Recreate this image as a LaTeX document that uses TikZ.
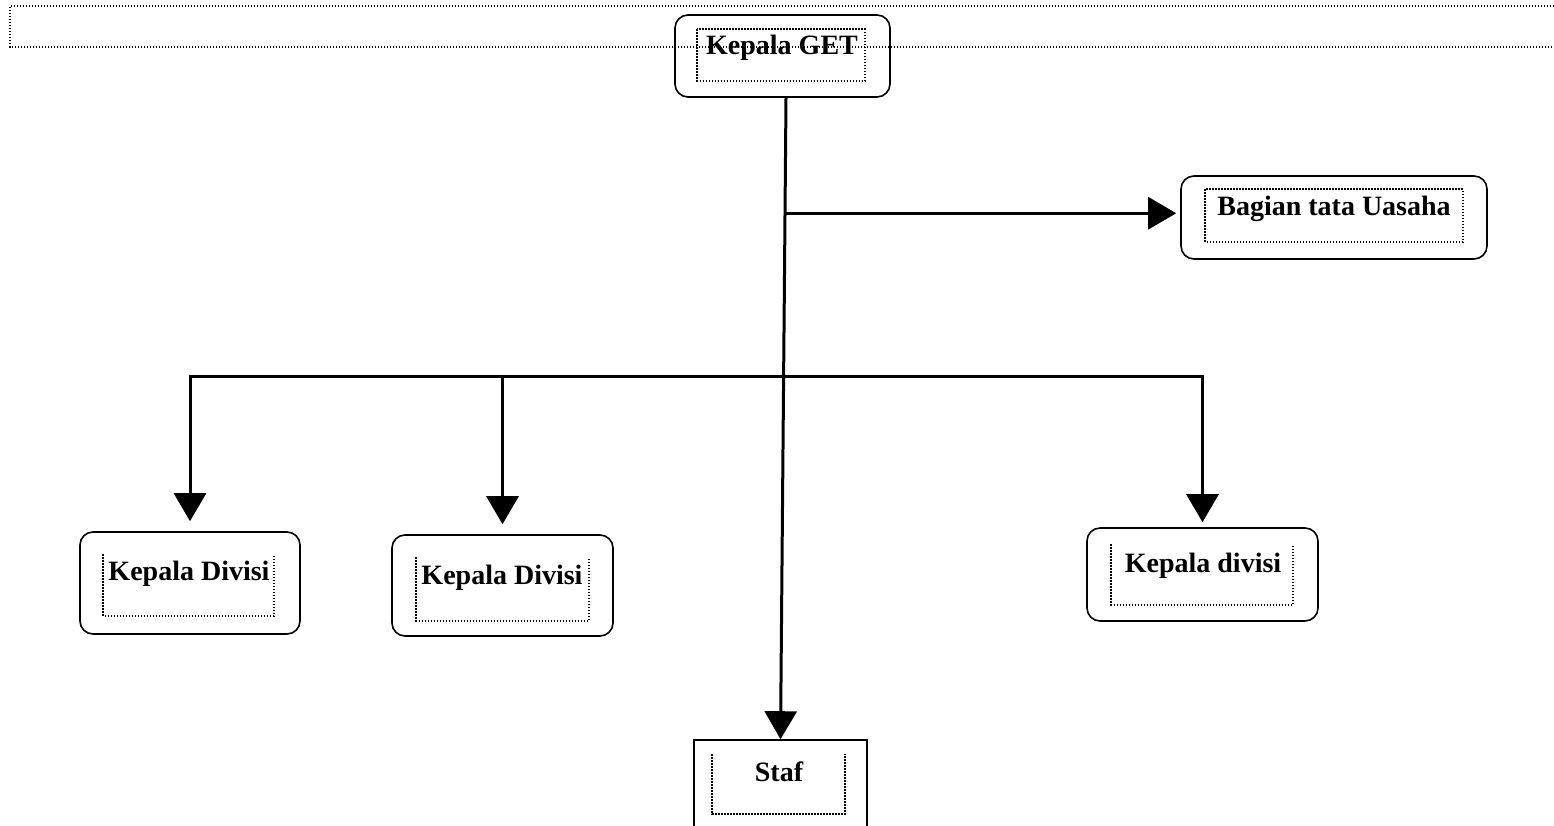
\documentclass[tikz,border=0pt]{standalone}
\usepackage{fontspec}
\setmainfont{Liberation Serif}
\usetikzlibrary{calc}
\usetikzlibrary{positioning}
\usetikzlibrary{arrows.meta}

\begin{document}
\begin{tikzpicture}[x=1pt, y=-1pt,
    roundbox/.style={rectangle, rounded corners=13pt, draw=black, line width=1.6pt, inner sep=0pt},
    flatbox/.style={rectangle, draw=black, line width=1.6pt, inner sep=0pt},
    dotframe/.style={draw=black, line width=1.6pt, dash pattern=on 1.4pt off 1.6pt},
    boxtext/.style={anchor=base, inner sep=0pt, font=\fontsize{28}{32}\selectfont\bfseries},
    link/.style={draw=black, line width=3pt, -{Triangle[length=28pt, width=32pt]}}]
    \useasboundingbox (0,0) rectangle (1554,825);
    \clip (0,0) rectangle (1554,825);

    % Top frame
    \draw[dotframe, line width=2pt] (1560,6) -- (10,6) -- (10,47) -- (1560,47);

    %Nodes
    \node[roundbox, minimum width=215pt, minimum height=82pt] (kget) at (782.5,56) {};
    \node[roundbox, minimum width=306pt, minimum height=83pt] (usaha) at (1334,217.5) {};
    \node[roundbox, minimum width=220pt, minimum height=102pt] (kdiv1) at (190,583) {};
    \node[roundbox, minimum width=221pt, minimum height=101pt] (kdiv2) at (502.5,585.5) {};
    \node[roundbox, minimum width=231pt, minimum height=93pt] (kdiv3) at (1202.5,574.5) {};
    \node[flatbox, minimum width=173pt, minimum height=110pt] (staf) at (780.5,795) {};

    % Inner frames
    \draw[dotframe] ($(kget.north west)+(23,15)$) rectangle ($(kget.south east)+(-26,-17)$);
    \draw[dotframe] ($(usaha.north west)+(25,14)$) rectangle ($(usaha.south east)+(-25,-18)$);
    \draw[dotframe] ($(kdiv1.north west)+(24,23)$) -- ($(kdiv1.south west)+(24,-19)$)
        -- ($(kdiv1.south east)+(-27,-19)$) -- ($(kdiv1.north east)+(-27,23)$);
    \draw[dotframe] ($(kdiv2.north west)+(25,23)$) -- ($(kdiv2.south west)+(25,-16)$)
        -- ($(kdiv2.south east)+(-25,-16)$) -- ($(kdiv2.north east)+(-25,23)$);
    \draw[dotframe] ($(kdiv3.north west)+(25,17)$) -- ($(kdiv3.south west)+(25,-17)$)
        -- ($(kdiv3.south east)+(-26,-17)$) -- ($(kdiv3.north east)+(-26,17)$);
    \draw[dotframe] ($(staf.north west)+(19,15)$) -- ($(staf.north west)+(19,75)$)
        -- ($(staf.north east)+(-23,75)$) -- ($(staf.north east)+(-23,15)$);

    % Texts
    \node[boxtext] (kgetText) at (782,54) {Kepala GET};
    \node[boxtext] (usahaText) at (1334,215) {Bagian tata Uasaha};
    \node[boxtext] (kdiv1Text) at (189,580) {Kepala Divisi};
    \node[boxtext] (kdiv2Text) at (502,584) {Kepala Divisi};
    \node[boxtext] (kdiv3Text) at (1203,572) {Kepala divisi};
    \node[boxtext] (stafText) at (779,781) {Staf};

    % Connectors
    \coordinate (trunkTop) at ($(kget.south)+(3.5,0)$);
    \coordinate (jUsaha) at ($(trunkTop)!0.18!(staf.north)$);
    \coordinate (busMid) at ($(trunkTop)!0.435!(staf.north)$);

    \draw[link] (trunkTop) -- (staf.north);
    \draw[link] (jUsaha) -- ($(jUsaha -| usaha.west)+(-4,0)$);

    \draw[line width=3pt, line cap=rect] (kdiv1.north |- busMid) -- (kdiv3.north |- busMid);
    \draw[link, shorten >=10pt] (kdiv1.north |- busMid) -- (kdiv1.north);
    \draw[link, shorten >=10pt] (kdiv2.north |- busMid) -- (kdiv2.north);
    \draw[link, shorten >=5pt] (kdiv3.north |- busMid) -- (kdiv3.north);

\end{tikzpicture}
\end{document}
